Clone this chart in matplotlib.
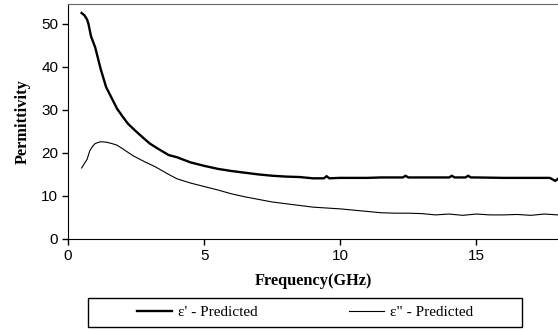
import matplotlib
matplotlib.use("Agg")
import matplotlib.pyplot as plt
from matplotlib.patches import Rectangle

# eps' (real part) predicted
freq_real = [0.5, 0.6, 0.7, 0.75, 0.85, 1.0, 1.2, 1.4, 1.6, 1.8, 2.0, 2.2, 2.5, 2.8,
             3.0, 3.3, 3.7, 4.0, 4.5, 5.0, 5.5, 6.0, 6.5, 7.0, 7.5, 8.0, 8.5, 9.0,
             9.4, 9.5, 9.6, 10.0, 10.5, 11.0, 11.5, 12.0, 12.3, 12.4, 12.5, 13.0,
             13.5, 14.0, 14.1, 14.2, 14.6, 14.7, 14.8, 15.0, 16.0, 17.0, 17.7,
             17.9, 18.0]
eps_real = [52.5, 52.0, 51.0, 50.0, 47.0, 44.5, 39.5, 35.3, 32.8, 30.3, 28.5, 26.8,
            25.0, 23.3, 22.2, 21.0, 19.5, 19.0, 17.8, 17.0, 16.3, 15.8, 15.4, 15.0,
            14.7, 14.5, 14.4, 14.1, 14.1, 14.6, 14.1, 14.2, 14.2, 14.2, 14.3, 14.3,
            14.3, 14.7, 14.3, 14.3, 14.3, 14.3, 14.7, 14.3, 14.3, 14.7, 14.3, 14.3,
            14.2, 14.2, 14.2, 13.5, 14.0]

# eps'' (imaginary part) predicted
freq_imag = [0.5, 0.7, 0.8, 0.9, 1.0, 1.2, 1.4, 1.6, 1.8, 2.0, 2.4, 2.8, 3.2, 3.7,
             4.0, 4.5, 5.0, 5.5, 6.0, 6.5, 7.0, 7.5, 8.0, 8.5, 9.0, 9.5, 10.0, 10.5,
             11.0, 11.5, 12.0, 12.5, 13.0, 13.5, 14.0, 14.5, 15.0, 15.5, 16.0, 16.5,
             17.0, 17.5, 18.0]
eps_imag = [16.5, 18.5, 20.5, 21.5, 22.2, 22.6, 22.5, 22.2, 21.8, 21.0, 19.3, 18.0,
            16.8, 15.0, 14.0, 13.0, 12.2, 11.4, 10.5, 9.8, 9.2, 8.6, 8.2, 7.8, 7.4,
            7.2, 7.0, 6.7, 6.4, 6.1, 6.0, 6.0, 5.9, 5.6, 5.8, 5.5, 5.8, 5.6, 5.6,
            5.7, 5.5, 5.8, 5.6]

x_ticks = [0, 5, 10, 15]
y_ticks = [0, 10, 20, 30, 40, 50]

serif = "Liberation Serif"
sans = "Liberation Sans"

fig = plt.figure(figsize=(5.58, 3.31), dpi=100)
ax = fig.add_axes([68 / 558, 1 - 239 / 331, 1 - 68 / 558, (239 - 4) / 331])

ax.plot(freq_real, eps_real, color="black", linewidth=1.7, label="ε' - Predicted")
ax.plot(freq_imag, eps_imag, color="black", linewidth=0.8, label='ε" - Predicted')

ax.set_xlim(0, 18)
ax.set_ylim(0, 54.6)
ax.set_xticks(x_ticks)
ax.set_yticks(y_ticks)
ax.tick_params(direction="out", length=4, width=1, labelsize=11, pad=3)
for lab in ax.get_xticklabels() + ax.get_yticklabels():
    lab.set_fontfamily(sans)

ax.spines["right"].set_visible(False)
ax.spines["top"].set_color("#666666")
ax.spines["left"].set_color("black")
ax.spines["bottom"].set_color("black")

ax.set_xlabel("Frequency(GHz)", fontfamily=serif, fontweight="bold", fontsize=11.8)
ax.set_ylabel("Permittivity", fontfamily=serif, fontweight="bold", fontsize=11.8)
ax.xaxis.set_label_coords(0.5, -0.145)
ax.yaxis.set_label_coords(-0.076, 0.5)

# legend frame drawn by hand, entries centered inside
fig.patches.append(Rectangle((88 / 558, 1 - 327 / 331), (522 - 88) / 558, 29 / 331,
                             transform=fig.transFigure, fill=False,
                             edgecolor="black", linewidth=1))
handles, labels = ax.get_legend_handles_labels()
fig.legend(handles, labels, loc="center", bbox_to_anchor=(305 / 558, 1 - 312 / 331),
           ncol=2, frameon=False, handlelength=2.3, handletextpad=0.35,
           columnspacing=6.0, prop={"family": serif, "size": 11})

fig.savefig("out.png", dpi=100)
